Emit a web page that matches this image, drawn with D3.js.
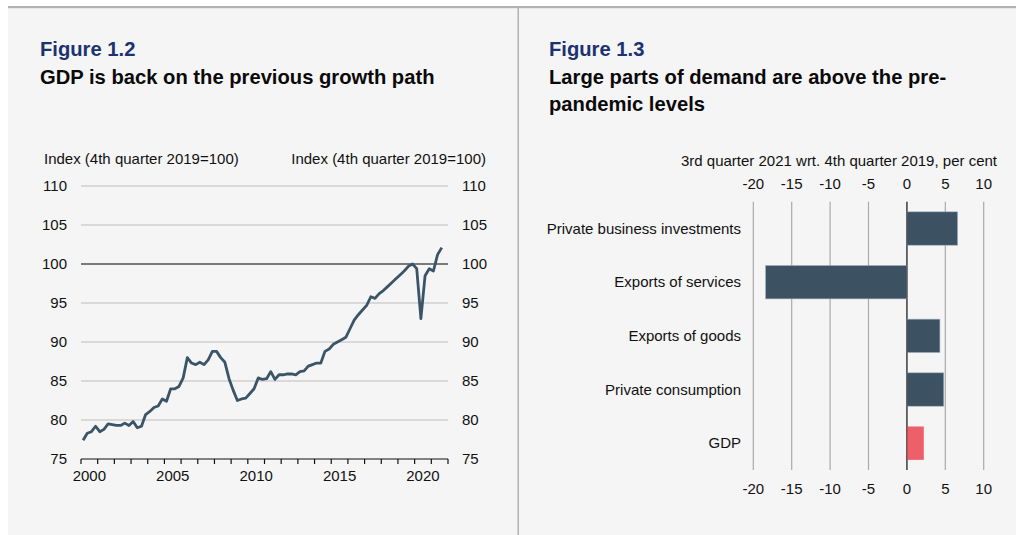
<!DOCTYPE html>
<html>
<head>
<meta charset="utf-8">
<script src="https://cdn.jsdelivr.net/npm/d3@7"></script>
<style>
  html, body { margin: 0; padding: 0; background: #ffffff; }
  svg { display: block; }
  text { font-family: "Liberation Sans", Arial, sans-serif; fill: #111; }
</style>
</head>
<body>
<svg id="chart" width="1016" height="535"></svg>
<script>
// GDP, quarterly index, 4th quarter 2019 = 100 (2000Q1 .. 2021Q3)
const gdpStartYear = 2000;
const gdpIndex = [
  77.4, 78.3, 78.5, 79.2,   // 2000
  78.5, 78.8, 79.5, 79.4,   // 2001
  79.3, 79.3, 79.6, 79.3,   // 2002
  79.8, 79.0, 79.2, 80.7,   // 2003
  81.1, 81.6, 81.8, 82.7,   // 2004
  82.4, 84.0, 84.0, 84.3,   // 2005
  85.4, 88.0, 87.3, 87.1,   // 2006
  87.4, 87.1, 87.7, 88.8,   // 2007
  88.8, 88.0, 87.4, 85.3,   // 2008
  83.8, 82.5, 82.7, 82.8,   // 2009
  83.4, 84.0, 85.4, 85.2,   // 2010
  85.3, 86.2, 85.2, 85.8,   // 2011
  85.8, 85.9, 85.9, 85.8,   // 2012
  86.2, 86.3, 86.9, 87.1,   // 2013
  87.3, 87.3, 88.8, 89.1,   // 2014
  89.7, 90.0, 90.3, 90.6,   // 2015
  91.7, 92.8, 93.5, 94.1,   // 2016
  94.7, 95.8, 95.6, 96.2,   // 2017
  96.6, 97.1, 97.6, 98.1,   // 2018
  98.6, 99.1, 99.7, 100.0,  // 2019
  99.4, 93.0, 98.5, 99.4,   // 2020
  99.1, 101.2, 102.1        // 2021
];
const yearTicks = d3.range(2000, 2023);
const yearLabels = [2000, 2005, 2010, 2015, 2020];
const indexTicks = [75, 80, 85, 90, 95, 100, 105, 110];

// Demand components, 3rd quarter 2021 relative to 4th quarter 2019, per cent
const components = ["Private business investments", "Exports of services", "Exports of goods", "Private consumption", "GDP"];
const componentChange = [6.6, -18.4, 4.3, 4.8, 2.2];
const changeTicks = [-20, -15, -10, -5, 0, 5, 10];

const svg = d3.select("#chart");
const FONT = 15;
const TITLE = 20.2;

// Panel background and frame
svg.append("rect").attr("x", 8).attr("y", 8).attr("width", 1008).attr("height", 527).attr("fill", "#f5f5f5");
svg.append("rect").attr("x", 8).attr("y", 6).attr("width", 1008).attr("height", 2.2).attr("fill", "#b3b1b1");
svg.append("rect").attr("x", 517.5).attr("y", 8).attr("width", 1.5).attr("height", 527).attr("fill", "#b3b1b1");

// ---------- Left panel: GDP index line ----------
const L = svg.append("g");
L.append("text").attr("x", 40).attr("y", 56).attr("font-size", TITLE).attr("font-weight", "bold")
  .style("fill", "#1b3370").text("Figure 1.2");
L.append("text").attr("x", 40).attr("y", 84).attr("font-size", TITLE).attr("font-weight", "bold")
  .style("fill", "#0a0a0a").text("GDP is back on the previous growth path");

const xL = d3.scaleLinear().domain([2000, 2022]).range([81, 448]);
const yL = d3.scaleLinear().domain([75, 110]).range([459, 186]);

L.append("text").attr("x", 44).attr("y", 159).attr("dy", "0.35em").attr("font-size", FONT)
  .text("Index (4th quarter 2019=100)");
L.append("text").attr("x", 486).attr("y", 159).attr("dy", "0.35em").attr("font-size", FONT)
  .attr("text-anchor", "end").text("Index (4th quarter 2019=100)");

// horizontal grid
L.selectAll("line.grid").data(indexTicks.filter(v => v > 75)).join("line")
  .attr("x1", xL(2000)).attr("x2", xL(2022))
  .attr("y1", d => yL(d)).attr("y2", d => yL(d))
  .attr("stroke", d => d === 100 ? "#7a7a7a" : "#bdbdbd")
  .attr("stroke-width", d => d === 100 ? 1.8 : 1.2);

// y tick labels, both sides
L.selectAll("text.yl").data(indexTicks).join("text")
  .attr("x", 67).attr("y", d => yL(d)).attr("dy", "0.35em").attr("text-anchor", "end")
  .attr("font-size", FONT).text(d => d);
L.selectAll("text.yr").data(indexTicks).join("text")
  .attr("x", 462).attr("y", d => yL(d)).attr("dy", "0.35em")
  .attr("font-size", FONT).text(d => d);

// x axis with a tick at every year boundary, labels centred in the year
const xAxis = L.append("g").attr("transform", `translate(0,${yL(75)})`);
xAxis.append("line").attr("x1", xL(2000)).attr("x2", xL(2022)).attr("stroke", "#111").attr("stroke-width", 1.2);
xAxis.selectAll("line.tk").data(yearTicks).join("line")
  .attr("x1", d => xL(d)).attr("x2", d => xL(d)).attr("y1", 0).attr("y2", 5)
  .attr("stroke", "#111").attr("stroke-width", 1.2);
xAxis.selectAll("text").data(yearLabels).join("text")
  .attr("x", d => xL(d + 0.5)).attr("y", 17).attr("dy", "0.35em").attr("text-anchor", "middle")
  .attr("font-size", FONT).text(d => d);

const line = d3.line()
  .x((d, i) => xL(gdpStartYear + (i + 0.5) / 4))
  .y(d => yL(d));
L.append("path").datum(gdpIndex).attr("d", line)
  .attr("fill", "none").attr("stroke", "#3a5568").attr("stroke-width", 2.8)
  .attr("stroke-linejoin", "round");

// ---------- Right panel: bar chart ----------
const R = svg.append("g");
R.append("text").attr("x", 549).attr("y", 56).attr("font-size", TITLE).attr("font-weight", "bold")
  .style("fill", "#1b3370").text("Figure 1.3");
R.append("text").attr("x", 549).attr("y", 84).attr("font-size", TITLE).attr("font-weight", "bold")
  .style("fill", "#0a0a0a").text("Large parts of demand are above the pre-");
R.append("text").attr("x", 549).attr("y", 111).attr("font-size", TITLE).attr("font-weight", "bold")
  .style("fill", "#0a0a0a").text("pandemic levels");

const xR = d3.scaleLinear().domain([-20, 10]).range([753.3, 983.7]);
const yR = d3.scaleBand().domain(components).range([201.7, 470]).paddingInner(0.378).paddingOuter(0.189);

R.append("text").attr("x", 997).attr("y", 160.5).attr("dy", "0.35em").attr("text-anchor", "end")
  .attr("font-size", FONT).text("3rd quarter 2021 wrt. 4th quarter 2019, per cent");

R.selectAll("line.vg").data(changeTicks).join("line")
  .attr("x1", d => xR(d)).attr("x2", d => xR(d)).attr("y1", 201.7).attr("y2", 470)
  .attr("stroke", d => d === 0 ? "#555" : "#aaa").attr("stroke-width", d => d === 0 ? 1.4 : 1.2);

R.selectAll("text.tt").data(changeTicks).join("text")
  .attr("x", d => xR(d)).attr("y", 184).attr("dy", "0.35em").attr("text-anchor", "middle")
  .attr("font-size", FONT).text(d => d);
R.selectAll("text.tb").data(changeTicks).join("text")
  .attr("x", d => xR(d)).attr("y", 489).attr("dy", "0.35em").attr("text-anchor", "middle")
  .attr("font-size", FONT).text(d => d);

R.selectAll("text.cat").data(components).join("text")
  .attr("x", 741).attr("y", d => yR(d) + yR.bandwidth() / 2).attr("dy", "0.35em")
  .attr("text-anchor", "end").attr("font-size", FONT).text(d => d);

R.selectAll("rect.bar").data(components).join("rect")
  .attr("x", (d, i) => xR(Math.min(0, componentChange[i])))
  .attr("width", (d, i) => Math.abs(xR(componentChange[i]) - xR(0)))
  .attr("y", d => yR(d)).attr("height", yR.bandwidth())
  .attr("fill", d => d === "GDP" ? "#ef5f69" : "#3c5263")
  .attr("stroke", d => d === "GDP" ? "none" : "#9fb0bf").attr("stroke-width", 0.6);

// zero line drawn over the bars
R.append("line").attr("x1", xR(0)).attr("x2", xR(0)).attr("y1", 201.7).attr("y2", 470)
  .attr("stroke", "#333").attr("stroke-width", 1.1).attr("opacity", 0.6);
</script>
</body>
</html>
